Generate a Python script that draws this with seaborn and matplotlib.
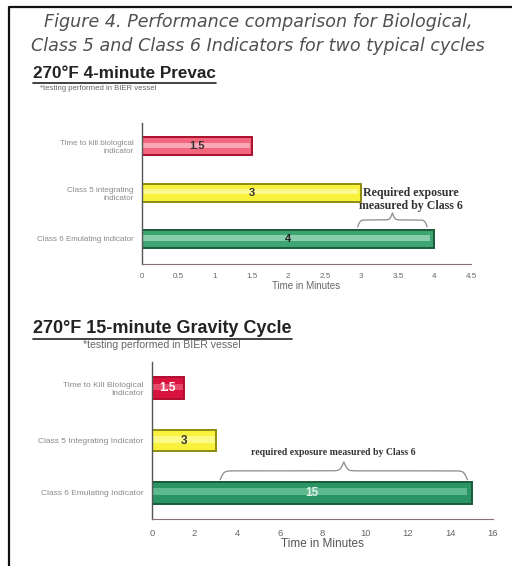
import numpy as np
import matplotlib
matplotlib.use("Agg")
import matplotlib.pyplot as plt
import seaborn as sns
import pandas as pd
from matplotlib.lines import Line2D

# chart 1: 270F 4-minute prevac
prevac_labels = ["Time to kill biological\nindicator", "Class 5 integrating\nindicator",
                 "Class 6 Emulating indicator"]
prevac_minutes = [1.5, 3, 4]
prevac_ticks = [0, 0.5, 1, 1.5, 2, 2.5, 3, 3.5, 4, 4.5]
prevac_tick_text = ["0", "0.5", "1", "1.5", "2", "2.5", "3", "3.5", "4", "4.5"]

# chart 2: 270F 15-minute gravity
gravity_labels = ["Time to Kill Biological\nIndicator", "Class 5 Integrating Indicator",
                  "Class 6 Emulating Indicator"]
gravity_minutes = [1.5, 3, 15]
gravity_ticks = [0, 2, 4, 6, 8, 10, 12, 14, 16]

W, H = 512, 566


def fx(px):
    return px / W


def fy(py):
    return 1 - py / H


def brace(ax, x0, x1, y_end, y_tip, beta):
    # curly brace opening downward (y axis inverted)
    n = 401
    x = np.linspace(x0, x1, n)
    half = x[: n // 2 + 1]
    s = 1 / (1 + np.exp(-beta * (half - half[0]))) + 1 / (1 + np.exp(-beta * (half - half[-1])))
    s = np.concatenate((s, s[-2::-1]))
    s = (s - s.min()) / (s.max() - s.min())
    y = y_end + (y_tip - y_end) * s
    ax.plot(x, y, color="#8a8a8a", lw=0.9, solid_capstyle="round")


def header(fig, x, y, text, size, sub, subx, suby, subsize):
    t = fig.text(fx(x), fy(y), text, fontsize=size, fontweight="bold", color="#222222",
                 family="Liberation Sans", va="baseline")
    fig.canvas.draw()
    bb = t.get_window_extent()
    fig.add_artist(Line2D([bb.x0 / W, bb.x1 / W], [(bb.y0 - 2) / H, (bb.y0 - 2) / H],
                          transform=fig.transFigure, color="#222222", lw=1.2))
    fig.text(fx(subx), fy(suby), sub, fontsize=subsize, color="#666666",
             family="Liberation Sans", va="center")


def chart(ax, labels, minutes, fills, lights, edges, txtcols, width, fs_tick, fs_ylab, fs_val, pad):
    df = pd.DataFrame({"label": labels, "minutes": minutes})
    sns.barplot(data=df, x="minutes", y="label", hue="label", palette=fills, orient="h",
                width=width, edgecolor=edges, linewidth=1.4, legend=False, ax=ax, saturation=1)
    for patch, ec in zip(ax.patches, edges):
        patch.set_edgecolor(ec)
    # lighter stripe inside the bars
    ax.barh(np.arange(len(minutes)) - width * 0.05, [m * 0.985 for m in minutes], left=0.0,
            height=width * 0.3, color=lights, alpha=0.55, linewidth=0)
    for cont, c in zip(ax.containers, txtcols):
        ax.bar_label(cont, labels=[f"{v:g}" for v in cont.datavalues], label_type="center",
                     fontsize=fs_val, fontweight="bold", color=c, family="Liberation Sans")
    for sp in ["top", "right"]:
        ax.spines[sp].set_visible(False)
    ax.spines["left"].set_color("#555555")
    ax.spines["bottom"].set_color("#8a7070")
    ax.spines["left"].set_linewidth(1.0)
    ax.spines["bottom"].set_linewidth(0.8)
    ax.set_ylabel("")
    ax.tick_params(axis="y", length=2, color="#777777", labelsize=fs_ylab, labelcolor="#8a8a8a", pad=4)
    ax.tick_params(axis="x", length=3, direction="inout", color="#777777", labelsize=fs_tick,
                   labelcolor="#666666", pad=pad)
    for lab in ax.get_yticklabels() + ax.get_xticklabels():
        lab.set_family("Liberation Sans")


sns.set_theme(style="white")
fig = plt.figure(figsize=(W / 100, H / 100), dpi=100)
fig.patch.set_facecolor("white")

# frame (top and left only)
fig.add_artist(Line2D([fx(9), fx(9), fx(512)], [0, fy(7), fy(7)], transform=fig.transFigure,
                      color="#111111", lw=1.6))

fig.text(fx(258), fy(22), "Figure 4. Performance comparison for Biological,", ha="center",
         va="center", fontsize=12.6, style="italic", color="#505050", family="DejaVu Sans")
fig.text(fx(258), fy(46), "Class 5 and Class 6 Indicators for two typical cycles", ha="center",
         va="center", fontsize=12.6, style="italic", color="#505050", family="DejaVu Sans")

header(fig, 33, 78, "270°F 4-minute Prevac", 12.3, "*testing performed in BIER vessel", 40, 89, 5.6)
header(fig, 33, 333, "270°F 15-minute Gravity Cycle", 13, "*testing performed in BIER vessel", 83, 345, 7.6)

# chart 1
ax1 = fig.add_axes([fx(142), fy(264), fx(471) - fx(142), (264 - 123) / H])
ax1.set_facecolor("none")
chart(ax1, prevac_labels, prevac_minutes,
      ["#f2667e", "#f8f23c", "#3da572"], ["#ffe0e6", "#ffffd0", "#c8f0dc"],
      ["#a8102c", "#8e8c10", "#1d5a3a"], ["#333333", "#333333", "#222222"],
      0.39, 5.8, 5.8, 8, 5)
ax1.set_xlim(0, 4.5)
ax1.set_ylim(2.54, -0.5)
ax1.set_xticks(prevac_ticks, prevac_tick_text)
ax1.set_xlabel("Time in Minutes", fontsize=7, color="#666666", family="Liberation Sans", labelpad=1)
ax1.text(3.68, 1.15, "Required exposure\nmeasured by Class 6", ha="center", va="center",
         fontsize=8.6, fontweight="bold", family="Liberation Serif", color="#333333", linespacing=1.05)
brace(ax1, 2.95, 3.9, 1.74, 1.44, 60)

# chart 2
ax2 = fig.add_axes([fx(152), fy(519), fx(493) - fx(152), (519 - 362) / H])
ax2.set_facecolor("none")
chart(ax2, gravity_labels, gravity_minutes,
      ["#d8143e", "#f8f23c", "#2a9464"], ["#f07890", "#ffffc8", "#8ad8b4"],
      ["#b00c30", "#8e8c10", "#1a5a38"], ["#ffffff", "#333333", "#e0f0e8"],
      0.42, 6.8, 6.0, 8.5, 6)
ax2.set_xlim(0, 16)
ax2.set_ylim(2.5, -0.5)
ax2.set_xticks(gravity_ticks, [str(t) for t in gravity_ticks])
ax2.set_xlabel("Time in Minutes", fontsize=8.5, color="#555555", family="Liberation Sans", labelpad=-0.5)
ax2.text(8.5, 1.22, "required exposure measured by Class 6", ha="center", va="center",
         fontsize=7, fontweight="bold", family="Liberation Serif", color="#333333")
brace(ax2, 3.2, 14.8, 1.75, 1.41, 12)

fig.savefig("out.png", dpi=100)
